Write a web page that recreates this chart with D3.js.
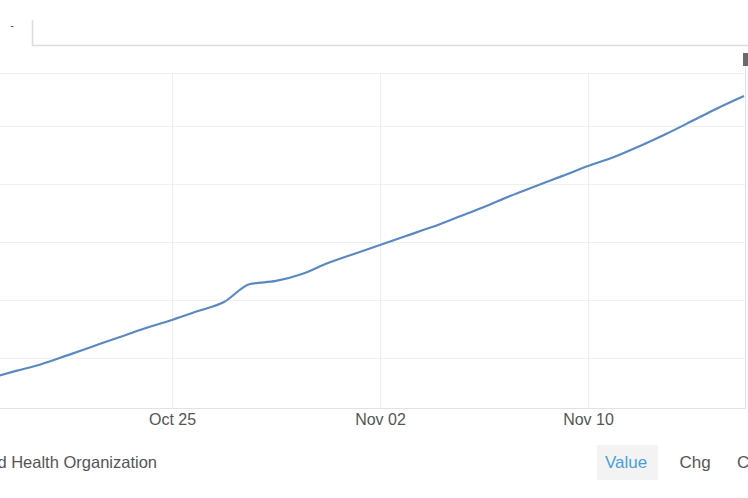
<!DOCTYPE html>
<html>
<head>
<meta charset="utf-8">
<script src="https://cdn.jsdelivr.net/npm/d3@7"></script>
<style>
  body { margin: 0; background: #fff; overflow: hidden; }
  svg { display: block; font-family: "Liberation Sans", Arial, sans-serif; }
</style>
</head>
<body>
<svg id="chart" width="748" height="498"></svg>
<script>
// Daily totals (millions), Oct 18 .. Nov 16
var dates = ["2020-10-18","2020-10-19","2020-10-20","2020-10-21","2020-10-22","2020-10-23","2020-10-24",
  "2020-10-25","2020-10-26","2020-10-27","2020-10-28","2020-10-29","2020-10-30","2020-10-31","2020-11-01",
  "2020-11-02","2020-11-03","2020-11-04","2020-11-05","2020-11-06","2020-11-07","2020-11-08","2020-11-09",
  "2020-11-10","2020-11-11","2020-11-12","2020-11-13","2020-11-14","2020-11-15","2020-11-16"];
var values = [38.95, 39.32, 39.68, 40.14, 40.61, 41.08, 41.54,
  41.96, 42.42, 42.89, 43.82, 43.98, 44.34, 44.91, 45.38,
  45.84, 46.31, 46.77, 47.29, 47.81, 48.38, 48.90, 49.41,
  49.93, 50.40, 50.97, 51.59, 52.26, 52.94, 53.56];
var xTickDates = ["2020-10-25", "2020-11-02", "2020-11-10"];
var yTickValues = [40, 43, 46, 49, 52];
var buttons = ["Value", "Chg", "Chg%"];

var parseDate = d3.utcParse("%Y-%m-%d");
var data = dates.map(function (d, i) {
  return { date: parseDate(d), value: values[i] };
});

var svg = d3.select("#chart");

var PLOT_TOP = 73;
var PLOT_BOTTOM = 408;
var PLOT_RIGHT = 745;

var xScale = d3.scaleUtc()
  .domain([parseDate(dates[0]), parseDate(dates[dates.length - 1])])
  .range([-10, 744]);

var yScale = d3.scaleLinear()
  .domain([37.4, 54.75])
  .range([PLOT_BOTTOM, PLOT_TOP]);

// tab strip at the top
svg.append("path")
  .attr("d", "M32.5,20 V45.5 H748")
  .attr("fill", "none")
  .attr("stroke", "#dcdcdc")
  .attr("stroke-width", 1.5);

// only the tail of the tab label shows
svg.append("clipPath").attr("id", "tabclip")
  .append("rect").attr("x", 0).attr("y", 26).attr("width", 32).attr("height", 10);
svg.append("text")
  .attr("clip-path", "url(#tabclip)")
  .attr("x", 18).attr("y", 24)
  .attr("text-anchor", "end")
  .attr("font-size", 15)
  .attr("fill", "#555")
  .text("y");

// horizontal grid
svg.append("g")
  .selectAll("line")
  .data(yTickValues)
  .enter().append("line")
  .attr("x1", 0).attr("x2", PLOT_RIGHT)
  .attr("y1", function (d) { return Math.round(yScale(d)) + 0.5; })
  .attr("y2", function (d) { return Math.round(yScale(d)) + 0.5; })
  .attr("stroke", "#f0f0f0");

svg.append("line")
  .attr("x1", 0).attr("x2", PLOT_RIGHT)
  .attr("y1", PLOT_TOP + 0.5).attr("y2", PLOT_TOP + 0.5)
  .attr("stroke", "#f0f0f0");

// vertical grid
svg.append("g")
  .selectAll("line")
  .data(xTickDates)
  .enter().append("line")
  .attr("x1", function (d) { return Math.round(xScale(parseDate(d))) + 0.5; })
  .attr("x2", function (d) { return Math.round(xScale(parseDate(d))) + 0.5; })
  .attr("y1", PLOT_TOP).attr("y2", PLOT_BOTTOM)
  .attr("stroke", "#eeeeee");

// x axis
var xAxis = d3.axisBottom(xScale)
  .tickValues(xTickDates.map(parseDate))
  .tickFormat(d3.utcFormat("%b %d"))
  .tickSize(0)
  .tickPadding(6);

var gx = svg.append("g")
  .attr("transform", "translate(0," + PLOT_BOTTOM + ")")
  .call(xAxis);
gx.select(".domain").attr("stroke", "#e2e2e2").attr("d", "M0,0.5H" + PLOT_RIGHT);
gx.selectAll("text")
  .attr("font-size", 16)
  .attr("fill", "#555")
  .attr("font-family", "Liberation Sans, Arial, sans-serif");

// y axis on the right; its labels sit outside the crop
var gy = svg.append("g")
  .attr("transform", "translate(" + PLOT_RIGHT + ",0)")
  .call(d3.axisRight(yScale).tickValues(yTickValues).tickSize(0).tickFormat(""));
gy.select(".domain").attr("stroke", "#e2e2e2").attr("d", "M0.5,53V" + (PLOT_BOTTOM + 1));

// last value marker at top right
svg.append("rect")
  .attr("x", 743).attr("y", 53).attr("width", 10).attr("height", 13)
  .attr("fill", "#6a6a6a");

// the line
var line = d3.line()
  .x(function (d) { return xScale(d.date); })
  .y(function (d) { return yScale(d.value); })
  .curve(d3.curveMonotoneX);

svg.append("path")
  .datum(data)
  .attr("d", line)
  .attr("fill", "none")
  .attr("stroke", "#5a89c2")
  .attr("stroke-width", 2.2);

// footer: source and buttons
svg.append("text")
  .attr("x", 157).attr("y", 468)
  .attr("text-anchor", "end")
  .attr("font-size", 16.5)
  .attr("fill", "#555")
  .text("Source: World Health Organization");

svg.append("rect")
  .attr("x", 597).attr("y", 445).attr("width", 61).attr("height", 35)
  .attr("fill", "#f3f3f3");

var buttonX = [626, 695, 737];
svg.append("g")
  .selectAll("text")
  .data(buttons)
  .enter().append("text")
  .attr("x", function (d, i) { return buttonX[i]; })
  .attr("y", 468)
  .attr("text-anchor", function (d, i) { return i == 2 ? "start" : "middle"; })
  .attr("font-size", 17)
  .attr("fill", function (d, i) { return i == 0 ? "#4a9fd8" : "#555"; })
  .text(function (d) { return d; });
</script>
</body>
</html>
